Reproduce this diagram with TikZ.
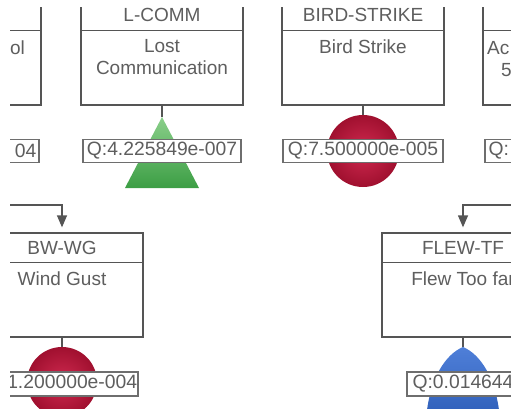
\documentclass[tikz,border=0pt]{standalone}
\usepackage{fontspec}
\setmainfont{Liberation Sans}
\usetikzlibrary{arrows.meta,calc}
\definecolor{linegray}{HTML}{555555}
\definecolor{txtgray}{HTML}{5E5E5E}
\definecolor{redin}{HTML}{D02A50}
\definecolor{redout}{HTML}{A0102F}
\definecolor{greentop}{HTML}{8ACF8A}
\definecolor{greenbot}{HTML}{3C9E44}
\definecolor{bluetop}{HTML}{4F7FD8}
\definecolor{bluebot}{HTML}{2E5EB8}
\begin{document}
\begin{tikzpicture}[x=1pt,y=-1pt,
  gbox/.style={draw=linegray, line width=1.3pt, fill=white, minimum width=162pt, inner sep=0pt},
  sepline/.style={draw=linegray, line width=1.2pt},
  lbl/.style={text=txtgray, font=\fontsize{19}{22}\selectfont, inner sep=0pt, align=center},
  qbox/.style={draw=linegray!85, line width=1.1pt, fill=white, text=txtgray, font=\fontsize{19.3}{22}\selectfont, inner sep=0pt},
  qtxt/.style={text=txtgray, font=\fontsize{19.3}{22}\selectfont, inner sep=0pt},
  stem/.style={draw=linegray, line width=1.2pt},
  redgate/.style={circle, inner sep=0pt, inner color=redin, outer color=redout},
  conn/.style={draw=linegray, line width=1.3pt, shorten >=5pt, -{Triangle[length=12pt,width=10pt]}}
]
\useasboundingbox (0,0) rectangle (511,409);
\clip (10,8) rectangle (511,409);

% ---------- top row ----------
% left partial box
\node[gbox, minimum height=106pt] (lbox) at (-40,52) {};
\draw[sepline] ($(lbox.north west)+(0,32)$) -- ($(lbox.north east)+(0,32)$);
\node[lbl, anchor=base east] (ldesc) at (25,55) {ol};
\node[qbox, minimum width=158pt, minimum height=23pt] (lq) at (-40,151) {};
\node[qtxt, anchor=east] (lqt) at ($(lq.east)+(-3,0)$) {04};

% L-COMM
\node[gbox, minimum height=106pt] (lcomm) at (162,52) {};
\draw[sepline] ($(lcomm.north west)+(0,32)$) -- ($(lcomm.north east)+(0,32)$);
\node[lbl] (lcommid) at ($(lcomm.north)+(0,16.5)$) {L-COMM};
\node[lbl, anchor=north] (lcommdesc) at ($(lcomm.north)+(0,41)$) {Lost\\Communication};
\coordinate (lcommgate) at (162,117);
\draw[stem] (lcomm.south) -- (lcommgate);
\shade[top color=greentop, bottom color=greenbot] (lcommgate) -- (199,188) -- (125,188) -- cycle;
\node[qbox, minimum width=158pt, minimum height=23pt] (lcommq) at (162,151) {Q:4.225849e-007};

% BIRD-STRIKE
\node[gbox, minimum height=106pt] (bird) at (363,52) {};
\draw[sepline] ($(bird.north west)+(0,32)$) -- ($(bird.north east)+(0,32)$);
\node[lbl] (birdid) at ($(bird.north)+(0,16.5)$) {BIRD-STRIKE};
\node[lbl, anchor=north] (birddesc) at ($(bird.north)+(0,41)$) {Bird Strike};
\node[redgate, minimum size=72pt] (birdgate) at (363,151) {};
\draw[stem] (bird.south) -- (birdgate.north);
\node[qbox, minimum width=160pt, minimum height=23pt] (birdq) at (363,151) {Q:7.500000e-005};

% right partial box
\node[gbox, minimum height=106pt] (rbox) at (564,52) {};
\draw[sepline] ($(rbox.north west)+(0,32)$) -- ($(rbox.north east)+(0,32)$);
\node[lbl, anchor=base west] (rdesca) at (487,55) {Ac};
\node[lbl, anchor=base west] (rdescb) at (501,77) {5};
\node[qbox, minimum width=158pt, minimum height=23pt] (rq) at (564,151) {};
\node[qtxt, anchor=west] (rqt) at ($(rq.west)+(4,0)$) {Q:};

% ---------- bottom row ----------
% BW-WG
\node[gbox, minimum height=104pt] (bwwg) at (62,285) {};
\draw[sepline] ($(bwwg.north west)+(0,30)$) -- ($(bwwg.north east)+(0,30)$);
\node[lbl] (bwwgid) at ($(bwwg.north)+(0,15.5)$) {BW-WG};
\node[lbl, anchor=north] (bwwgdesc) at ($(bwwg.north)+(0,39)$) {Wind Gust};
\coordinate (bwin) at (10,205);
\draw[conn] (bwin) -| (bwwg.north);
\node[redgate, minimum size=70pt] (bwgate) at (62,382) {};
\draw[stem] (bwwg.south) -- (bwgate.north);
\node[qbox, minimum width=152pt, minimum height=24pt] (bwq) at (62,384) {Q:1.200000e-004};

% FLEW-TF
\node[gbox, minimum height=104pt] (flew) at (463,285) {};
\draw[sepline] ($(flew.north west)+(0,30)$) -- ($(flew.north east)+(0,30)$);
\node[lbl] (flewid) at ($(flew.north)+(0,15.5)$) {FLEW-TF};
\node[lbl, anchor=north] (flewdesc) at ($(flew.north)+(0,39)$) {Flew Too far};
\coordinate (flewin) at (511,205);
\draw[conn] (flewin) -| (flew.north);
\coordinate (flewgate) at (463,347);
\draw[stem] (flew.south) -- (flewgate);
\shade[top color=bluetop, bottom color=bluebot] (flewgate) .. controls (480,354) and (497,378) .. (500,420) -- (426,420) .. controls (429,378) and (446,354) .. (flewgate);
\node[qbox, minimum width=112pt, minimum height=24pt] (flewq) at (463,384) {Q:0.014644};
\end{tikzpicture}
\end{document}
